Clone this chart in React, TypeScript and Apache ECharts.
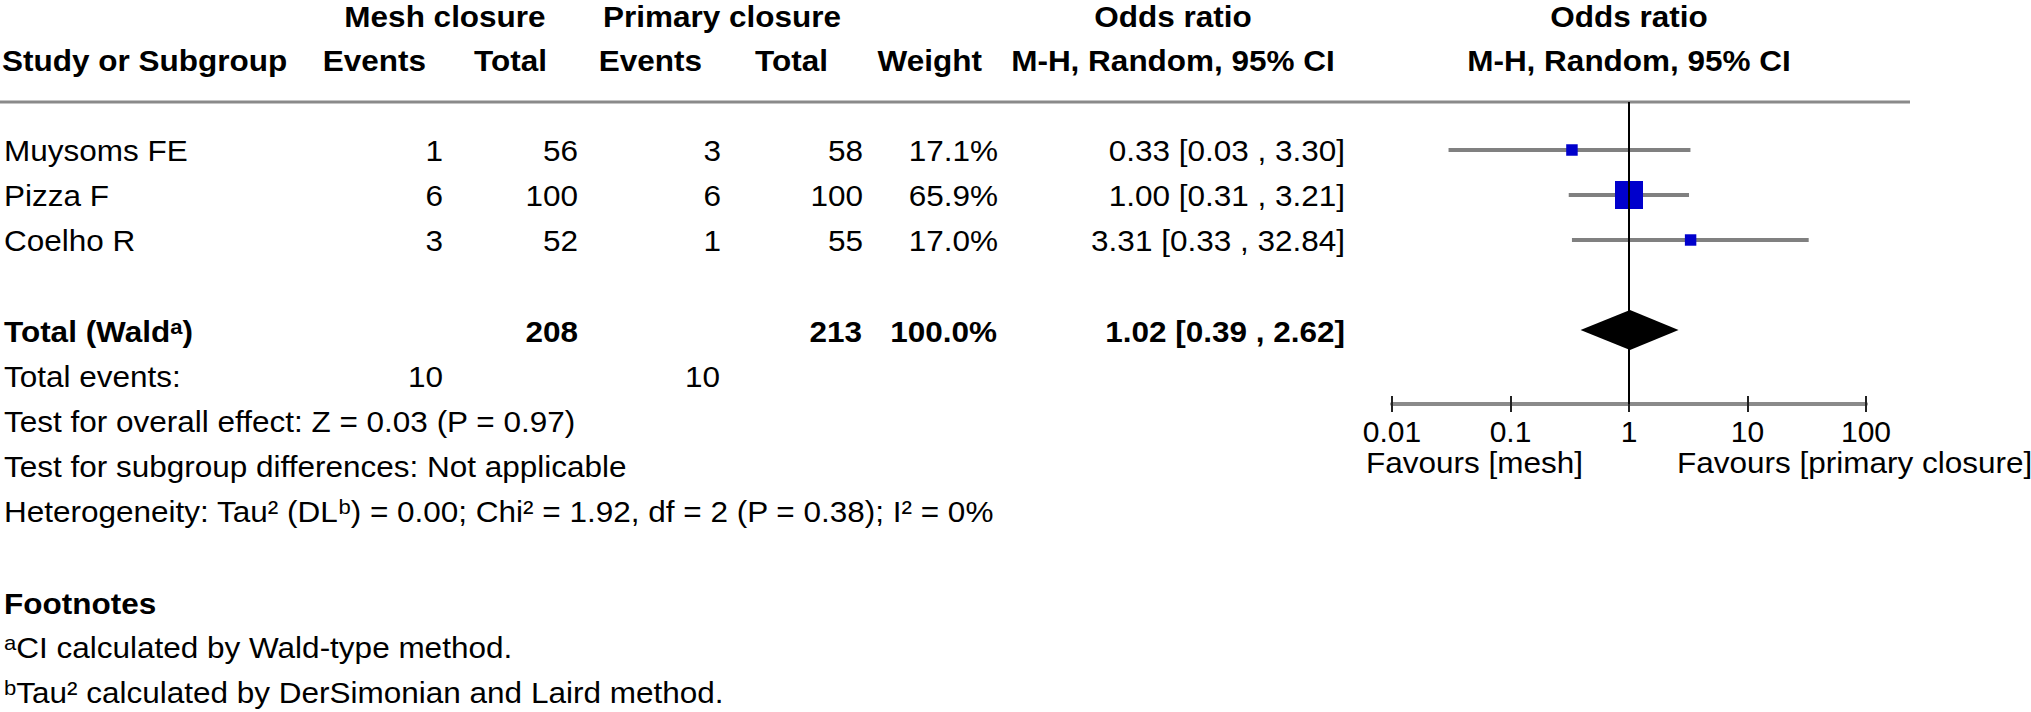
import React, { useEffect, useRef } from 'react';
import * as echarts from 'echarts';

// ---------- data ----------
const studies = ['Muysoms FE', 'Pizza F', 'Coelho R'];
const meshEvents = [1, 6, 3];
const meshTotals = [56, 100, 52];
const primaryEvents = [3, 6, 1];
const primaryTotals = [58, 100, 55];
const weights = [17.1, 65.9, 17.0];
const oddsRatios = [0.33, 1.0, 3.31];
const ciLower = [0.03, 0.31, 0.33];
const ciUpper = [3.3, 3.21, 32.84];

const totalMesh = 208;
const totalPrimary = 213;
const totalWeight = 100.0;
const pooled = [1.02, 0.39, 2.62];
const totalEventsMesh = 10;
const totalEventsPrimary = 10;

const axisTicks = [0.01, 0.1, 1, 10, 100];
const favourLabels = ['Favours [mesh]', 'Favours [primary closure]'];

const overallEffect = 'Test for overall effect: Z = 0.03 (P = 0.97)';
const subgroupTest = 'Test for subgroup differences: Not applicable';
const heterogeneity = 'Heterogeneity: Tau² (DL{sup|b}) = 0.00; Chi² = 1.92, df = 2 (P = 0.38); I² = 0%';
const footnotes = ['{sup|a}CI calculated by Wald-type method.', '{sup|b}Tau² calculated by DerSimonian and Laird method.'];

// ---------- layout ----------
const FONT = 'Liberation Sans, Arial, Helvetica, sans-serif';
const FS = 30;
const SX = 1.05;
const ROW0 = 105; // pixel of row index 0
const ROWH = 45;
const GRID_TOP = 102;
const GRID_BOTTOM = 404;
const yMin = (GRID_TOP - ROW0) / ROWH;
const yMax = (GRID_BOTTOM - ROW0) / ROWH;
const studyRows = [1, 2, 3];
const totalRow = 5;

const supStyle = (bold: boolean) => ({
  fontFamily: FONT,
  fontSize: 21,
  fontWeight: bold ? 'bold' : 'normal',
  fill: '#000',
  verticalAlign: 'top',
  lineHeight: 30,
});

function txt(text: string, x: number, y: number, align: 'left' | 'right' | 'center', bold = false, rich = false) {
  const style: any = {
    text,
    fill: '#000',
    fontFamily: FONT,
    fontSize: FS,
    fontWeight: bold ? 'bold' : 'normal',
    align,
    verticalAlign: 'middle',
    textAlign: align,
    textVerticalAlign: 'middle',
  };
  if (rich) {
    style.rich = { sup: supStyle(bold) };
    style.lineHeight = 30;
  }
  return { type: 'text', x, y, scaleX: SX, style, z: 10 };
}

const fmt2 = (v: number) => v.toFixed(2);
const ciText = (o: number, l: number, h: number) => `${fmt2(o)} [${fmt2(l)} , ${fmt2(h)}]`;
const maxW = Math.max(...weights);
const boxSize = (w: number) => 28 * Math.pow(w / maxW, 0.66);

export default function App() {
  const ref = useRef<HTMLDivElement>(null);

  useEffect(() => {
    const chart = echarts.init(ref.current!, null, { renderer: 'svg' });

    const graphics: any[] = [];
    // header row 1
    const h1 = 17;
    graphics.push(txt('Mesh closure', 445, h1, 'center', true));
    graphics.push(txt('Primary closure', 722, h1, 'center', true));
    graphics.push(txt('Odds ratio', 1173, h1, 'center', true));
    graphics.push(txt('Odds ratio', 1629, h1, 'center', true));
    // header row 2
    const h2 = 61;
    graphics.push(txt('Study or Subgroup', 2, h2, 'left', true));
    graphics.push(txt('Events', 426, h2, 'right', true));
    graphics.push(txt('Total', 547, h2, 'right', true));
    graphics.push(txt('Events', 702, h2, 'right', true));
    graphics.push(txt('Total', 828, h2, 'right', true));
    graphics.push(txt('Weight', 982, h2, 'right', true));
    graphics.push(txt('M-H, Random, 95% CI', 1173, h2, 'center', true));
    graphics.push(txt('M-H, Random, 95% CI', 1629, h2, 'center', true));
    // header rule
    graphics.push({
      type: 'line',
      shape: { x1: 0, y1: 102, x2: 1910, y2: 102 },
      style: { stroke: '#8a8a8a', lineWidth: 3 },
    });

    // study rows
    studies.forEach((name, i) => {
      const y = ROW0 + ROWH * studyRows[i] + 1;
      graphics.push(txt(name, 4, y, 'left'));
      graphics.push(txt(String(meshEvents[i]), 443, y, 'right'));
      graphics.push(txt(String(meshTotals[i]), 578, y, 'right'));
      graphics.push(txt(String(primaryEvents[i]), 721, y, 'right'));
      graphics.push(txt(String(primaryTotals[i]), 863, y, 'right'));
      graphics.push(txt(`${weights[i].toFixed(1)}%`, 998, y, 'right'));
      graphics.push(txt(ciText(oddsRatios[i], ciLower[i], ciUpper[i]), 1345, y, 'right'));
    });

    // total row
    const ty = ROW0 + ROWH * totalRow + 2;
    graphics.push(txt('Total (Wald{sup|a})', 4, ty, 'left', true, true));
    graphics.push(txt(String(totalMesh), 578, ty, 'right', true));
    graphics.push(txt(String(totalPrimary), 862, ty, 'right', true));
    graphics.push(txt(`${totalWeight.toFixed(1)}%`, 997, ty, 'right', true));
    graphics.push(txt(ciText(pooled[0], pooled[1], pooled[2]), 1345, ty, 'right', true));

    graphics.push(txt('Total events:', 4, 377, 'left'));
    graphics.push(txt(String(totalEventsMesh), 443, 377, 'right'));
    graphics.push(txt(String(totalEventsPrimary), 720, 377, 'right'));
    graphics.push(txt(overallEffect, 4, 422, 'left'));
    graphics.push(txt(subgroupTest, 4, 467, 'left'));
    graphics.push(txt(heterogeneity, 4, 512, 'left', false, true));
    graphics.push(txt('Footnotes', 4, 604, 'left', true));
    graphics.push(txt(footnotes[0], 4, 648, 'left', false, true));
    graphics.push(txt(footnotes[1], 4, 693, 'left', false, true));

    // favour labels
    graphics.push(txt(favourLabels[0], 1583, 463, 'right'));
    graphics.push(txt(favourLabels[1], 1677, 463, 'left'));

    const tickLabel = (v: number) => {
      const t = axisTicks.find((a) => Math.abs(Math.log10(a) - Math.log10(v)) < 1e-6);
      return t === undefined ? '' : String(t);
    };

    const option: any = {
      animation: false,
      backgroundColor: '#fff',
      grid: { left: 1392, top: GRID_TOP, width: 474, height: GRID_BOTTOM - GRID_TOP, containLabel: false },
      xAxis: [
        {
          type: 'log',
          logBase: 10,
          min: axisTicks[0],
          max: axisTicks[axisTicks.length - 1],
          position: 'bottom',
          axisLine: { show: true, onZero: false, lineStyle: { color: '#8a8a8a', width: 4 } },
          axisTick: { show: true, length: 8, lineStyle: { color: '#222', width: 2 } },
          minorTick: { show: false },
          splitLine: { show: false },
          axisLabel: {
            show: true,
            fontFamily: FONT,
            fontSize: FS,
            color: '#000',
            margin: 12,
            formatter: tickLabel,
          },
        },
        {
          type: 'log',
          logBase: 10,
          min: axisTicks[0],
          max: axisTicks[axisTicks.length - 1],
          position: 'bottom',
          offset: 0,
          gridIndex: 0,
          axisLine: { show: false, onZero: false },
          axisTick: { show: true, inside: true, length: 8, lineStyle: { color: '#222', width: 2 } },
          minorTick: { show: false },
          splitLine: { show: false },
          axisLabel: { show: false },
        },
      ],
      yAxis: {
        type: 'value',
        inverse: true,
        min: yMin,
        max: yMax,
        show: false,
      },
      graphic: graphics,
      series: [
        {
          type: 'custom',
          xAxisIndex: 0,
          encode: { x: [0, 1, 2], y: 3 },
          data: studies.map((_, i) => [oddsRatios[i], ciLower[i], ciUpper[i], studyRows[i], boxSize(weights[i])]),
          renderItem: (params: any, api: any) => {
            const y = api.value(3);
            const a = api.coord([api.value(1), y]);
            const b = api.coord([api.value(2), y]);
            const c = api.coord([api.value(0), y]);
            const s = api.value(4);
            return {
              type: 'group',
              children: [
                {
                  type: 'line',
                  shape: { x1: a[0], y1: a[1], x2: b[0], y2: b[1] },
                  style: { stroke: '#808080', lineWidth: 4 },
                },
                {
                  type: 'rect',
                  shape: { x: c[0] - s / 2, y: c[1] - s / 2, width: s, height: s },
                  style: { fill: '#0000cc' },
                },
              ],
            };
          },
          z: 2,
        },
        {
          type: 'custom',
          xAxisIndex: 0,
          encode: { x: [0, 1, 2], y: 3 },
          data: [[pooled[0], pooled[1], pooled[2], totalRow]],
          renderItem: (params: any, api: any) => {
            const y = api.value(3);
            const a = api.coord([api.value(1), y]);
            const b = api.coord([api.value(2), y]);
            const c = api.coord([api.value(0), y]);
            const h = 20;
            return {
              type: 'polygon',
              shape: { points: [[a[0], c[1]], [c[0], c[1] - h], [b[0], c[1]], [c[0], c[1] + h]] },
              style: { fill: '#000' },
            };
          },
          z: 2,
        },
        {
          type: 'line',
          xAxisIndex: 0,
          data: [[1, yMin], [1, yMax]],
          symbol: 'none',
          lineStyle: { color: '#000', width: 2 },
          z: 5,
        },
      ],
    };

    chart.setOption(option);
    return () => chart.dispose();
  }, []);

  return (
    <div
      ref={ref}
      style={{ position: 'fixed', left: 0, top: 0, width: 2031, height: 712, background: '#fff' }}
    />
  );
}
